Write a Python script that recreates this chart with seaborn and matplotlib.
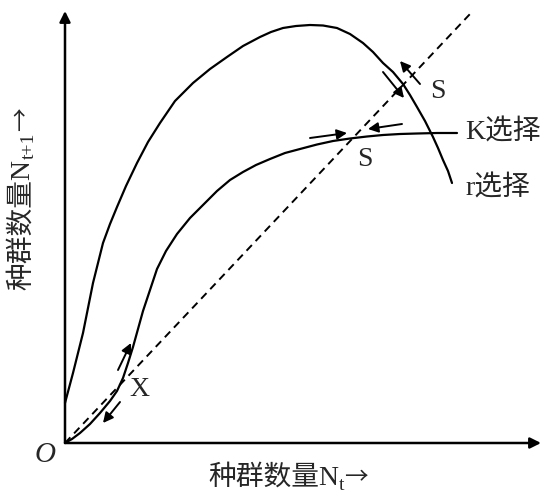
import matplotlib
matplotlib.use("Agg")
import matplotlib.pyplot as plt
import seaborn as sns
import pandas as pd

# ---- data (chart units: x = N_t, y = N_t+1) ----
r_x = [0, 4, 8, 13, 18, 23, 28, 33, 38, 45, 52, 61, 72, 83, 95, 110, 128, 145, 162, 178,
       195, 206, 218, 231, 245, 258, 272, 285, 298, 308, 318, 328, 338, 345, 352, 360,
       368, 373, 378, 383, 387]
r_y = [40, 55, 70, 90, 110, 135, 160, 180, 200, 219, 236, 257, 280, 301, 320, 342, 360, 374, 386, 397,
       406, 411, 415, 417, 418, 417.5, 415, 409, 400, 391, 380, 371, 359, 348, 336, 322,
       306, 295, 283, 272, 260]

k_x = [0, 7, 15, 25, 35, 45, 52, 58, 63, 68, 73, 78, 85, 92, 101, 112, 125, 139, 152, 165,
       178, 191, 205, 220, 235, 252, 268, 285, 302, 318, 335, 352, 372, 392]
k_y = [0, 4, 10, 19, 30, 42, 52, 65, 80, 96, 114, 132, 153, 174, 192, 209, 225, 239, 252, 263,
       271, 278, 284, 290, 294, 298.5, 302, 304.5, 306.5, 308, 309, 309.5, 310, 310]

diag_x = [0, 405]
diag_y = [0, 429]

# direction arrows: (tail_x, tail_y, head_x, head_y)
arrows = [
    (318, 371, 339, 345),
    (355, 359, 335, 382),
    (245, 305, 282, 310),
    (337, 319, 303, 314),
    (53, 73, 66, 100),
    (55, 41, 38, 20),
]

point_labels = ["S", "S", "X"]
point_pos = [(373, 351), (300, 284), (74, 54)]
curve_labels = ["K选择", "r选择"]
curve_label_pos = [(400, 311), (400, 255)]
axis_main = "种群数量N"
x_sub = "t"
y_sub = "t+1"
arrow_char = "→"

# ---- style ----
sns.set_theme(style="white")
plt.rcParams["font.family"] = ["Liberation Serif", "Noto Sans CJK SC"]

fig = plt.figure(figsize=(5.45, 4.95), dpi=100)
ax = fig.add_axes([0, 0, 1, 1])
ax.set_xlim(-65, 480)
ax.set_ylim(-52, 443)
ax.axis("off")

df_r = pd.DataFrame({"x": r_x, "y": r_y})
df_k = pd.DataFrame({"x": k_x, "y": k_y})
df_d = pd.DataFrame({"x": diag_x, "y": diag_y})

sns.lineplot(data=df_r, x="x", y="y", sort=False, estimator=None, color="black", lw=1.6, ax=ax)
sns.lineplot(data=df_k, x="x", y="y", sort=False, estimator=None, color="black", lw=1.6, ax=ax)
ax.plot(df_d["x"], df_d["y"], color="black", lw=1.4, linestyle=(0, (4, 2.8)))

# axes with arrows
for end in [(476, 0), (0, 432)]:
    ax.annotate("", xy=end, xytext=(0, 0),
                arrowprops=dict(arrowstyle="-|>", color="black", lw=1.8, mutation_scale=16,
                                shrinkA=0, shrinkB=0))

for tx, ty, hx, hy in arrows:
    ax.annotate("", xy=(hx, hy), xytext=(tx, ty),
                arrowprops=dict(arrowstyle="-|>", color="black", lw=1.4, mutation_scale=15,
                                shrinkA=0, shrinkB=0))

for lab, (px, py) in zip(point_labels, point_pos):
    ax.text(px, py, lab, fontsize=20, ha="center", va="center")

for lab, (px, py) in zip(curve_labels, curve_label_pos):
    ax.text(px, py, lab, fontsize=20, ha="left", va="center")

ax.text(-20, -12, "O", fontsize=21, style="italic", ha="center", va="center")

arrow_font = ["Noto Sans CJK SC"]

# x axis label (main text + subscript + arrow)
tx1 = ax.text(143, -35, axis_main, fontsize=20, ha="left", va="center")
tx2 = ax.annotate(x_sub, xy=(1, 0), xycoords=tx1, xytext=(0, -2), textcoords="offset points",
                  fontsize=14, ha="left", va="bottom")
tx3 = ax.annotate(arrow_char, xy=(1, 0), xycoords=(tx2, tx1), xytext=(0, 1),
                  textcoords="offset points", fontsize=17, ha="left", va="bottom",
                  family=arrow_font)

# y axis label (rotated)
ty1 = ax.text(-43, 153, axis_main, fontsize=20, ha="center", va="bottom", rotation=90)
ty2 = ax.annotate(y_sub, xy=(1, 1), xycoords=ty1, xytext=(2, 0), textcoords="offset points",
                  fontsize=14, ha="right", va="bottom", rotation=90)
ty3 = ax.annotate(arrow_char, xy=(1, 1), xycoords=(ty1, ty2), xytext=(-1, 1),
                  textcoords="offset points", fontsize=17, ha="right", va="bottom", rotation=90,
                  family=arrow_font)

fig.savefig("out.png", dpi=100)
